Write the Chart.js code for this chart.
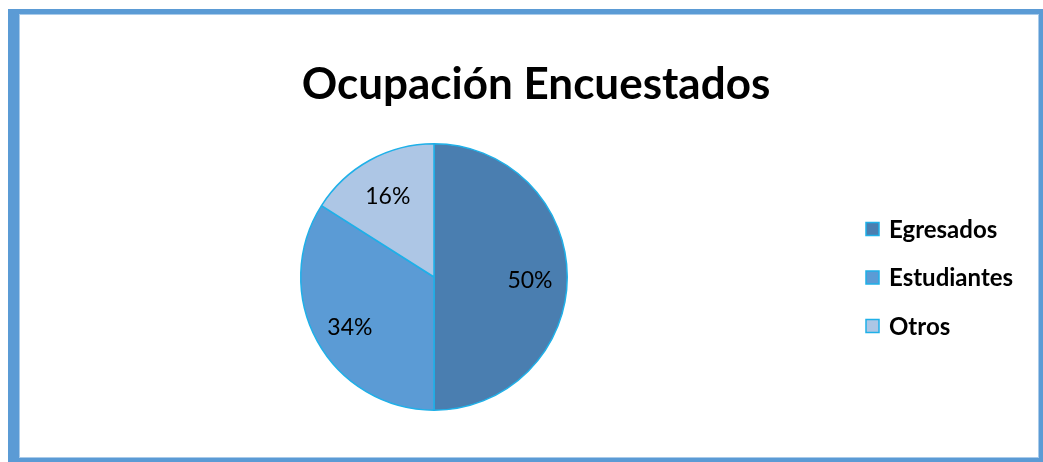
<!DOCTYPE html>
<html>
<head>
<meta charset="utf-8">
<script src="https://cdn.jsdelivr.net/npm/chart.js@4.4.1/dist/chart.umd.min.js"></script>
<style>
  html, body { margin: 0; padding: 0; background: #fff; }
  #wrap { width: 1043px; height: 462px; position: relative; }
</style>
</head>
<body>
<div id="wrap"><canvas id="pie" width="1043" height="462"></canvas></div>
<script>
var categories = ["Egresados", "Estudiantes", "Otros"];
var values = [50, 34, 16];
var sliceColors = ["#4a7eb0", "#5b9bd5", "#adc6e5"];
var chartTitle = "Ocupación Encuestados";
var FONT = "Lato, 'Open Sans', sans-serif";

var framePlugin = {
    id: "frame",
    beforeDraw: function (chart) {
        var c = chart.ctx;
        c.save();
        c.fillStyle = "#fff";
        c.fillRect(0, 0, 1043, 462);
        c.fillStyle = "#5b9bd5";
        c.fillRect(8, 9, 1035, 453);
        c.fillStyle = "#a9cbea";
        c.fillRect(19, 14, 1020, 444);
        c.fillStyle = "#fff";
        c.fillRect(20, 15, 1018, 442);
        c.restore();
    },
    afterDraw: function (chart) {
        var c = chart.ctx;
        c.save();
        // title
        c.fillStyle = "#000";
        c.font = "bold 44px " + FONT;
        c.textAlign = "center";
        c.textBaseline = "middle";
        c.fillText(chartTitle, 536, 85);
        // slice labels
        var meta = chart.getDatasetMeta(0);
        var total = values.reduce(function (a, b) { return a + b; }, 0);
        c.font = "23px " + FONT;
        meta.data.forEach(function (arc, i) {
            var mid = (arc.startAngle + arc.endAngle) / 2;
            var r = arc.outerRadius * 0.72;
            var x = arc.x + Math.cos(mid) * r;
            var y = arc.y + Math.sin(mid) * r;
            c.fillText(Math.round(values[i] / total * 100) + "%", x, y + 4);
        });
        // legend
        c.textAlign = "left";
        c.font = "bold 24px " + FONT;
        categories.forEach(function (name, i) {
            var y = 229 + i * 48.5;
            c.fillStyle = sliceColors[i];
            c.fillRect(866, y - 6.5, 13, 13);
            c.strokeStyle = "#1fb0e8";
            c.lineWidth = 1.5;
            c.strokeRect(866, y - 6.5, 13, 13);
            c.fillStyle = "#000";
            c.fillText(name, 889, y + 1);
        });
        c.restore();
    }
};

new Chart(document.getElementById("pie"), {
    type: "pie",
    data: {
        labels: categories,
        datasets: [{
            data: values,
            backgroundColor: sliceColors,
            borderColor: "#1fb0e8",
            borderWidth: 1.5
        }]
    },
    options: {
        responsive: false,
        animation: false,
        layout: { padding: { left: 300, right: 475, top: 143, bottom: 51 } },
        plugins: {
            legend: { display: false },
            tooltip: { enabled: false },
            title: { display: false }
        }
    },
    plugins: [framePlugin]
});
</script>
</body>
</html>
